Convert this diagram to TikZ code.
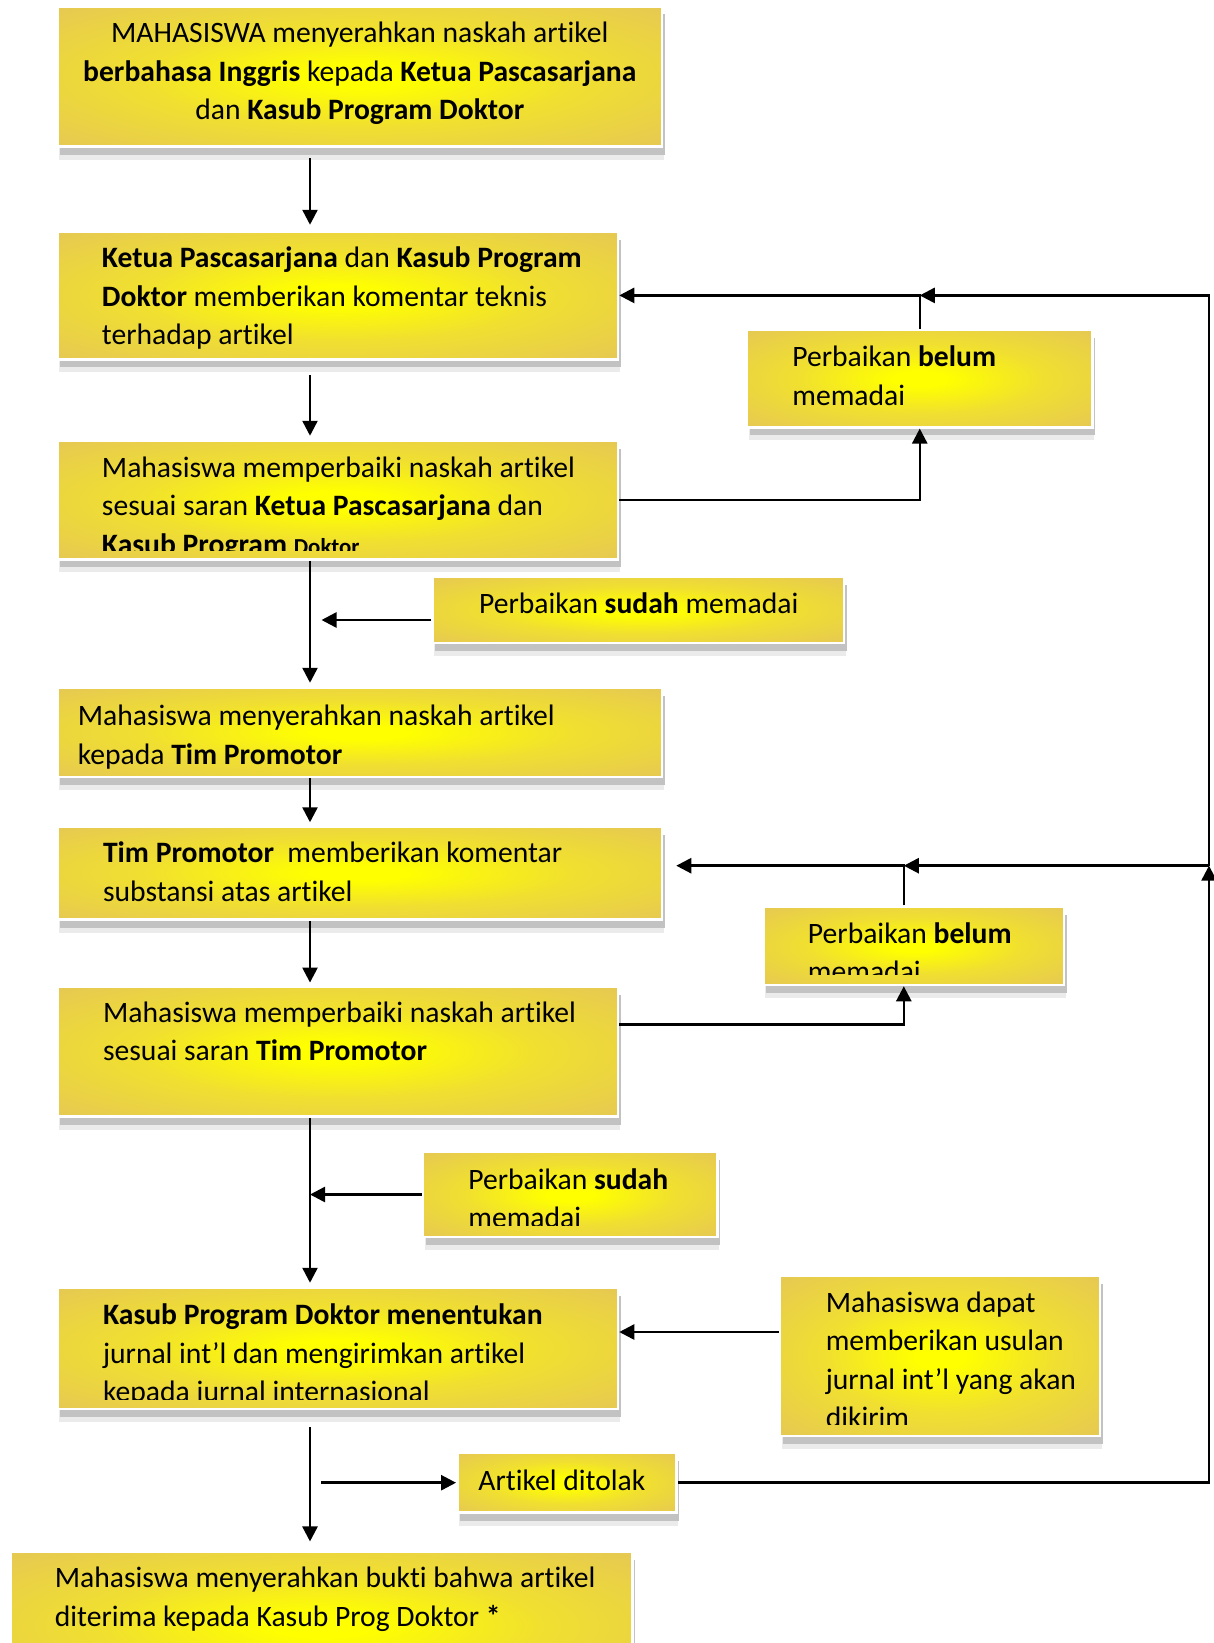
\documentclass[tikz,border=0pt]{standalone}
\usepackage{fontspec}
\setmainfont{Carlito}[Ligatures=NoCommon]
\usetikzlibrary{arrows.meta,fit,shadows}

\definecolor{kuning}{RGB}{255,255,0}
\definecolor{emas}{RGB}{228,197,88}
\colorlet{kuningtengah}{emas!55!kuning}
\pgfdeclareradialshading{kuningemas}{\pgfpoint{0bp}{0bp}}{%
  color(0bp)=(kuning); color(4bp)=(kuning); color(18bp)=(kuningtengah);
  color(38bp)=(emas); color(72bp)=(emas)}

\begin{document}
\begin{tikzpicture}[x=0.2mm, y=-0.2mm,
  kotak/.style={draw=white, line width=0.5mm, shade, shading=kuningemas, inner sep=0pt,
    drop shadow={shadow xshift=0.3mm, shadow yshift=-2.6mm, fill=black!8, opacity=1},
    drop shadow={shadow xshift=0.5mm, shadow yshift=-1.6mm, fill=black!24, opacity=1}},
  teks/.style={anchor=base west, align=left, inner sep=0pt,
    font=\fontsize{16.85}{21.9}\selectfont},
  panah/.style={-{Triangle[length=3mm,width=3mm]}, line width=0.5mm}]
  \useasboundingbox (0,0) rectangle (1214,1643);
  \coordinate (poros) at (310,0);
  \coordinate (sudut1) at (1209,295.4);
  \coordinate (sudut2) at (1209,865.7);

  % kotak utama (teks diletakkan pada garis dasar baris terakhir)
  \node[kotak, fit={(57.6,6.3) (662,146.7)}] (b1) {};
  \node[teks, anchor=base, align=center] (t1) at (359.8,119.8)
    {MAHASISWA menyerahkan naskah artikel\\
     \textbf{berbahasa Inggris} kepada \textbf{Ketua Pascasarjana}\\
     dan \textbf{Kasub Program Doktor}};
  \node[kotak, fit={(57.6,231.5) (618,359.3)}] (b2) {};
  \node[teks] (t2) at (101.6,344.6)
    {\textbf{Ketua Pascasarjana} dan \textbf{Kasub Program}\\
     \textbf{Doktor} memberikan komentar teknis\\
     terhadap artikel};
  \node[kotak, fit={(57.6,441) (618,559.4)}] (b3) {};
  \begin{scope}
    \clip ([yshift=2.1mm]b3.south west) rectangle (b3.north east);
    \node[teks] (t3) at (101.6,554)
      {Mahasiswa memperbaiki naskah artikel\\
       sesuai saran \textbf{Ketua Pascasarjana} dan\\
       \textbf{Kasub Program {\fontsize{13}{16}\selectfont Doktor}}};
  \end{scope}
  \node[kotak, fit={(57.6,688) (662,777)}] (b4) {};
  \node[teks] (t4) at (77.5,764.2)
    {Mahasiswa menyerahkan naskah artikel\\
     kepada \textbf{Tim Promotor}};
  \node[kotak, fit={(57.6,826.5) (662,919.7)}] (b5) {};
  \node[teks] (t5) at (102.7,901.3)
    {\textbf{Tim Promotor}\ \ memberikan komentar\\
     substansi atas artikel};
  \node[kotak, fit={(57.6,986.8) (618,1116.6)}] (b6) {};
  \node[teks] (t6) at (102.7,1060.5)
    {Mahasiswa memperbaiki naskah artikel\\
     sesuai saran \textbf{Tim Promotor}};
  \node[kotak, fit={(57.6,1288) (618,1409)}] (b7) {};
  \begin{scope}
    \clip ([yshift=2.2mm]b7.south west) rectangle (b7.north east);
    \node[teks] (t7) at (102.7,1401.7)
      {\textbf{Kasub Program Doktor menentukan}\\
       jurnal int’l dan mengirimkan artikel\\
       kepada jurnal internasional};
  \end{scope}
  \node[kotak, fit={(10.5,1551.7) (632.7,1700)}] (b8) {};
  \node[teks] (t8) at (54.5,1626.1)
    {Mahasiswa menyerahkan bukti bahwa artikel\\
     diterima kepada Kasub Prog Doktor \textbf{*}};

  % kotak samping
  \node[kotak, fit={(747,330) (1092.5,427.3)}] (belum1) {};
  \node[teks] (tb1) at (792,405) {Perbaikan \textbf{belum}\\ memadai};
  \node[kotak, fit={(432.6,577) (844,643)}] (sudah1) {};
  \node[teks] (ts1) at (478.7,613.8) {Perbaikan \textbf{sudah} memadai};
  \node[kotak, fit={(763.6,906.7) (1064,985)}] (belum2) {};
  \begin{scope}
    \clip ([yshift=2.45mm]belum2.south west) rectangle (belum2.north east);
    \node[teks] (tb2) at (807.6,981.5) {Perbaikan \textbf{belum}\\ memadai};
  \end{scope}
  \node[kotak, fit={(423,1152) (717.5,1237)}] (sudah2) {};
  \begin{scope}
    \clip ([yshift=2.5mm]sudah2.south west) rectangle (sudah2.north east);
    \node[teks] (ts2) at (468,1227.5) {Perbaikan \textbf{sudah}\\ memadai};
  \end{scope}
  \node[kotak, fit={(780,1276) (1100,1436)}] (usulan) {};
  \begin{scope}
    \clip ([yshift=2.6mm]usulan.south west) rectangle (usulan.north east);
    \node[teks] (tu) at (825.4,1427.5)
      {Mahasiswa dapat\\ memberikan usulan\\ jurnal int’l yang akan\\ dikirim};
  \end{scope}
  \node[kotak, fit={(457.3,1452.7) (676.7,1512.7)}] (tolak) {};
  \node[teks] (tt) at (478,1490) {Artikel ditolak};

  % alur utama
  \draw[panah, shorten <=2.1mm, shorten >=1.1mm] (b1.south -| poros) -- (b2.north -| poros);
  \draw[panah, shorten <=2.9mm, shorten >=0.8mm] (b2.south -| poros) -- (b3.north -| poros);
  \draw[panah, shorten >=0.8mm] (b3.south -| poros) -- (b4.north -| poros);
  \draw[panah, shorten >=0.6mm] (b4.south -| poros) -- (b5.north -| poros);
  \draw[panah, shorten >=0.6mm] (b5.south -| poros) -- (b6.north -| poros);
  \draw[panah, shorten >=0.8mm] (b6.south -| poros) -- (b7.north -| poros);
  \draw[panah, shorten <=3.4mm, shorten >=1.8mm] (b7.south -| poros) -- (b8.north -| poros);

  % umpan balik
  \draw[panah] (b3.east) -| (belum1.south);
  \draw[panah] (belum1.north) |- (b2.east);
  \draw[panah] (sudut2) -- (sudut1) -- (belum1.north |- sudut1);
  \coordinate (c6) at ([yshift=5.4mm]b6.east);
  \coordinate (b2atas) at ([xshift=-2mm]belum2.north);
  \coordinate (b2bawah) at ([xshift=-2mm]belum2.south);
  \draw[panah] (c6) -| (b2bawah);
  \draw[panah, shorten >=2.6mm] (b2atas) |- (b5.east |- sudut2);
  \draw[panah] (sudut2) -- (b2atas |- sudut2);
  \draw[panah] (tolak.east) -| (sudut2);
  \coordinate (cs1) at ([yshift=-2mm]sudah1.west);
  \draw[panah, shorten >=2.3mm] (cs1) -- (cs1 -| poros);
  \draw[panah] (sudah2.west) -- (sudah2.west -| poros);
  \coordinate (cu) at ([yshift=4.8mm]usulan.west);
  \draw[panah] (cu) -- (cu -| b7.east);
  \draw[panah, shorten <=2.2mm] (tolak.west -| poros) -- (tolak.west);
\end{tikzpicture}
\end{document}
